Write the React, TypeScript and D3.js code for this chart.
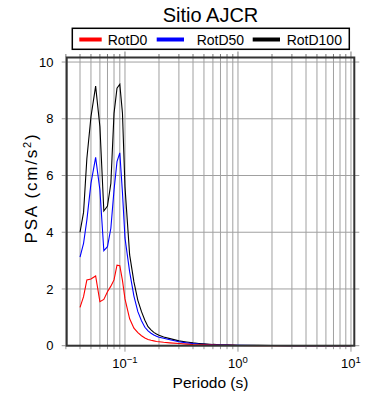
import React from "react";
import * as d3 from "d3";

const periods = [0.04, 0.043, 0.046, 0.05, 0.055, 0.06, 0.065, 0.07, 0.075, 0.08, 0.085, 0.09, 0.095, 0.1, 0.11, 0.12, 0.13, 0.14, 0.15, 0.16, 0.17, 0.18, 0.19, 0.2, 0.22, 0.25, 0.3, 0.35, 0.4, 0.45, 0.5, 0.6, 0.7, 0.8, 0.9, 1, 1.5, 2, 3, 4, 5, 7.5, 10];

const rotD100 = [4.0, 4.7, 6.6, 8.07, 9.15, 7.72, 4.75, 4.92, 5.72, 8.19, 9.08, 9.22, 8.2, 5.6, 3.2, 2.25, 1.6, 1.2, 0.9, 0.67, 0.56, 0.47, 0.41, 0.37, 0.31, 0.25, 0.17, 0.13, 0.1, 0.08, 0.065, 0.045, 0.035, 0.028, 0.022, 0.018, 0.01, 0.007, 0.004, 0.003, 0.002, 0.0015, 0.001];

const rotD50 = [3.12, 3.61, 4.43, 5.72, 6.64, 5.49, 3.35, 3.49, 4.14, 5.49, 6.49, 6.8, 5.4, 3.8, 2.6, 1.75, 1.2, 0.88, 0.65, 0.52, 0.44, 0.38, 0.33, 0.3, 0.26, 0.21, 0.14, 0.1, 0.075, 0.058, 0.047, 0.033, 0.025, 0.02, 0.016, 0.013, 0.007, 0.005, 0.003, 0.002, 0.0015, 0.001, 0.0008];

const rotD0 = [1.35, 1.73, 2.32, 2.35, 2.46, 1.55, 1.63, 1.9, 2.1, 2.32, 2.84, 2.82, 2.3, 1.65, 0.95, 0.62, 0.46, 0.35, 0.27, 0.22, 0.19, 0.17, 0.15, 0.14, 0.12, 0.1, 0.075, 0.055, 0.04, 0.033, 0.028, 0.02, 0.015, 0.012, 0.01, 0.008, 0.004, 0.003, 0.002, 0.0012, 0.001, 0.0006, 0.0004];

const seriesNames = ["RotD0", "RotD50", "RotD100"];
const seriesColors = ["#ff0000", "#0000ff", "#000000"];
const yTicks = [0, 2, 4, 6, 8, 10];
const xDecades = [0.1, 1, 10];
const xDecadeExp = ["-1", "0", "1"];

const FONT = "'Liberation Sans', Arial, Helvetica, sans-serif";

export default function App() {
  const left = 66.7, right = 354.3, top = 57.5, bottom = 345.7;
  const x = d3.scaleLog().domain([0.0305, 10.7]).range([left, right]);
  const y = d3.scaleLinear().domain([0, 10.16]).range([bottom, top]);

  const minorTicks: number[] = [];
  for (let e = -2; e <= 1; e++) {
    for (let m = 1; m <= 9; m++) {
      const v = m * Math.pow(10, e);
      if (v >= 0.03 && v <= 10.7) minorTicks.push(v);
    }
  }

  const line = d3
    .line<number>()
    .x((_, i) => x(periods[i]))
    .y((d) => y(d));

  const series = [rotD0, rotD50, rotD100];
  const drawOrder = [2, 1, 0];

  const gridColor = "#a0a0a0";
  const frameColor = "#333333";

  const legendItems = [
    { lx1: 79.3, lx2: 101.7, tx: 107.7 },
    { lx1: 156.7, lx2: 184, tx: 196.7 },
    { lx1: 252.7, lx2: 280, tx: 286.7 },
  ];

  return (
    <div style={{ position: "absolute", left: 0, top: 0 }}>
      <svg width={390} height={400} style={{ display: "block", background: "#fff" }} fontFamily={FONT}>
        {/* title */}
        <text x={(left + right) / 2} y={22} textAnchor="middle" fontSize={20} fill="#000">
          Sitio AJCR
        </text>

        {/* legend */}
        <rect x={72.3} y={28.3} width={277} height={21} fill="#fff" stroke="#000" strokeWidth={1.5} />
        {legendItems.map((it, i) => (
          <g key={seriesNames[i]}>
            <line x1={it.lx1} x2={it.lx2} y1={39.5} y2={39.5} stroke={seriesColors[i]} strokeWidth={4} />
            <text x={it.tx} y={44.5} fontSize={14} fill="#000">
              {seriesNames[i]}
            </text>
          </g>
        ))}

        {/* grid */}
        {minorTicks.map((v) => (
          <line key={"gx" + v} x1={x(v)} x2={x(v)} y1={top} y2={bottom} stroke={gridColor} strokeWidth={1} />
        ))}
        {yTicks.map((v) => (
          <line key={"gy" + v} x1={left} x2={right} y1={y(v)} y2={y(v)} stroke={gridColor} strokeWidth={1} />
        ))}

        {/* curves */}
        {drawOrder.map((i) => (
          <path key={"s" + i} d={line(series[i]) || ""} fill="none" stroke={seriesColors[i]} strokeWidth={1.1} />
        ))}

        {/* ticks */}
        {minorTicks.map((v) => {
          const major = xDecades.includes(v);
          const len = major ? 6 : 3.5;
          return (
            <g key={"tk" + v}>
              <line x1={x(v)} x2={x(v)} y1={top} y2={top - len} stroke="#777" strokeWidth={1} />
              <line x1={x(v)} x2={x(v)} y1={bottom} y2={bottom + len} stroke="#999" strokeWidth={1} />
            </g>
          );
        })}
        {yTicks.map((v) => (
          <g key={"ty" + v}>
            <line x1={left - 5} x2={left} y1={y(v)} y2={y(v)} stroke="#999" strokeWidth={1} />
            <line x1={right} x2={right + 5} y1={y(v)} y2={y(v)} stroke="#999" strokeWidth={1} />
            <text x={53.5} y={y(v)} dy="0.36em" textAnchor="end" fontSize={13} fill="#000">
              {v}
            </text>
          </g>
        ))}

        {/* frame */}
        <rect x={left} y={top} width={right - left} height={bottom - top} fill="none" stroke={frameColor} strokeWidth={2} />

        {/* x tick labels */}
        {xDecades.map((v, i) => (
          <text key={"xl" + v} x={x(v)} y={368} textAnchor="middle" fontSize={13} fill="#000">
            10
            <tspan dy={-5} fontSize={9.5}>
              {xDecadeExp[i].replace("-", "\u2212")}
            </tspan>
          </text>
        ))}

        {/* axis labels */}
        <text x={(left + right) / 2} y={387.5} textAnchor="middle" fontSize={15.5} fill="#000">
          Periodo (s)
        </text>
        <text transform={`translate(37, 188) rotate(-90)`} textAnchor="middle" fontSize={17} letterSpacing={1.8} fill="#000">
          PSA (cm/s<tspan dy={-6} fontSize={11}>2</tspan>
          <tspan dy={6}>)</tspan>
        </text>
      </svg>
    </div>
  );
}
